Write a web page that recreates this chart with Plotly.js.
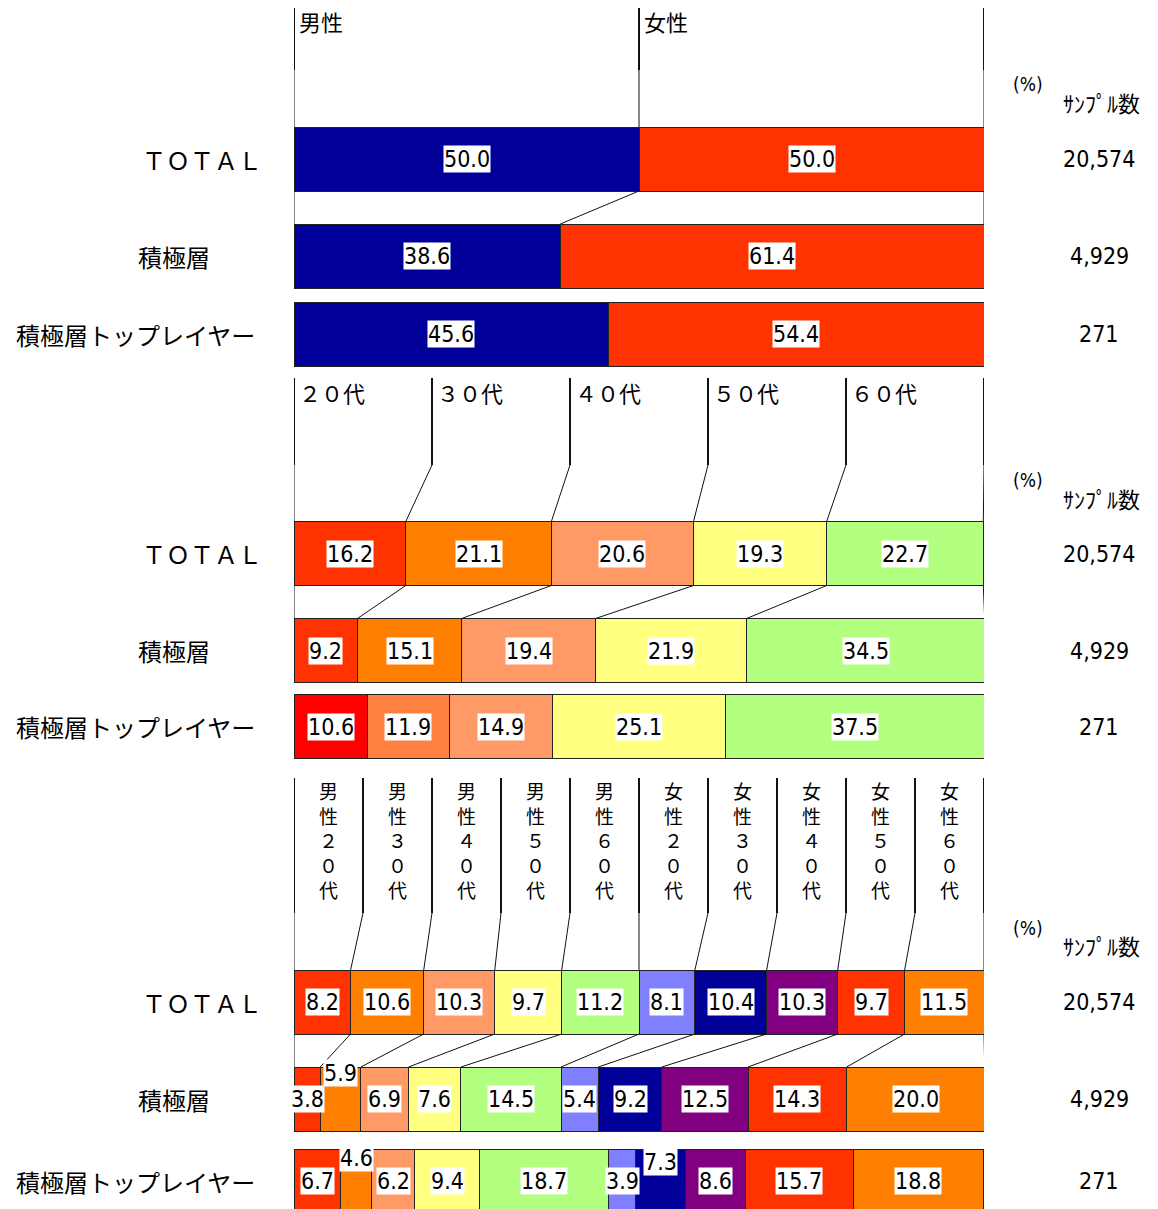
<!DOCTYPE html>
<html>
<head>
<meta charset="utf-8">
<script src="https://cdn.plot.ly/plotly-3.0.1.min.js"></script>
<style>
  html, body { margin: 0; padding: 0; background: #fff; }
  #chart { width: 1158px; height: 1209px; }
</style>
</head>
<body>
<div id="chart"></div>
<script>
// ---- data ----
const rowLabels = ['ＴＯＴＡＬ', '積極層', '積極層トップレイヤー'];
const sampleSizes = ['20,574', '4,929', '271'];

const sexCats = ['男性', '女性'];
const sexTotal = [50.0, 50.0];
const sexActive = [38.6, 61.4];
const sexTop = [45.6, 54.4];

const ageCats = ['２０代', '３０代', '４０代', '５０代', '６０代'];
const ageTotal = [16.2, 21.1, 20.6, 19.3, 22.7];
const ageActive = [9.2, 15.1, 19.4, 21.9, 34.5];
const ageTop = [10.6, 11.9, 14.9, 25.1, 37.5];

const sexAgeCats = ['男性２０代', '男性３０代', '男性４０代', '男性５０代', '男性６０代',
                    '女性２０代', '女性３０代', '女性４０代', '女性５０代', '女性６０代'];
const sexAgeTotal = [8.2, 10.6, 10.3, 9.7, 11.2, 8.1, 10.4, 10.3, 9.7, 11.5];
const sexAgeActive = [3.8, 5.9, 6.9, 7.6, 14.5, 5.4, 9.2, 12.5, 14.3, 20.0];
const sexAgeTop = [6.7, 4.6, 6.2, 9.4, 18.7, 3.9, 7.3, 8.6, 15.7, 18.8];

// ---- styles / layout geometry (y in page pixels, top = 0) ----
const W = 1158, H = 1209;
const BAR_H = 64;
const JP = '"Noto Sans CJK JP", "Noto Sans", sans-serif';
const NUM = '"Liberation Sans Narrow", "DejaVu Sans Condensed", "Noto Sans CJK JP", sans-serif';

const panels = [
  {
    cats: sexCats, rows: [sexTotal, sexActive, sexTop],
    colors: ['#000099', '#FF3300'],
    topColors: ['#000099', '#FF3300'],
    headTop: 8, headBottom: 70, centers: [159, 256, 334],
    pctY: 84, sampleHeadY: 102, vertical: false, headY: 21,
    lift: {}
  },
  {
    cats: ageCats, rows: [ageTotal, ageActive, ageTop],
    colors: ['#FF3300', '#FF8000', '#FF9966', '#FFFF80', '#B3FF80'],
    topColors: ['#FF0000', '#FF8040', '#FF9966', '#FFFF80', '#B3FF80'],
    headTop: 378, headBottom: 465, centers: [553.5, 650.5, 726.5],
    pctY: 480, sampleHeadY: 498, vertical: false, headY: 392,
    lift: {}
  },
  {
    cats: sexAgeCats, rows: [sexAgeTotal, sexAgeActive, sexAgeTop],
    colors: ['#FF3300', '#FF8000', '#FF9966', '#FFFF80', '#B3FF80',
             '#8080FF', '#000099', '#800080', '#FF3300', '#FF8000'],
    topColors: ['#FF3300', '#FF8000', '#FF9966', '#FFFF80', '#B3FF80',
                '#8080FF', '#000099', '#800080', '#FF3300', '#FF8000'],
    headTop: 778, headBottom: 913, centers: [1002, 1099, 1181],
    pctY: 928, sampleHeadY: 945, vertical: true, headY: 840,
    // labels of narrow segments raised above the row centre (row -> {segment: px})
    lift: { 1: { 1: 26 }, 2: { 1: 23, 6: 19 } }
  }
];

const rowLabelX = [140, 136, 14];
const sampleX = 1099;

function cumsum(arr) {
  const out = [0];
  arr.forEach(v => out.push(out[out.length - 1] + v));
  return out;
}

const traces = [];
const shapes = [];
const annotations = [];

const thick = { color: '#111', width: 2 };
const thin = { color: '#111', width: 1 };

panels.forEach(p => {
  const n = p.cats.length;

  // stacked bars, one trace per category
  p.cats.forEach((cat, k) => {
    traces.push({
      type: 'bar', orientation: 'h', name: cat,
      y: p.centers,
      x: p.rows.map(r => r[k]),
      width: BAR_H,
      marker: {
        color: [p.colors[k], p.colors[k], p.topColors[k]],
        line: { color: '#222', width: 1 }
      },
      hoverinfo: 'skip', showlegend: false
    });
  });

  const cumT = cumsum(p.rows[0]);
  const cumA = cumsum(p.rows[1]);
  const totalTop = p.centers[0] - BAR_H / 2;
  const totalBottom = p.centers[0] + BAR_H / 2;
  const activeTop = p.centers[1] - BAR_H / 2;

  // header dividers and leader lines down to the TOTAL bar
  for (let k = 0; k <= n; k++) {
    const hx = k * 100 / n;
    shapes.push({ type: 'line', xref: 'x', yref: 'y', x0: hx, x1: hx,
                  y0: p.headTop, y1: p.headBottom, line: thick });
    shapes.push({ type: 'line', xref: 'x', yref: 'y', x0: hx, x1: cumT[k],
                  y0: p.headBottom, y1: totalTop, line: thin });
    // TOTAL -> 積極層 connectors
    shapes.push({ type: 'line', xref: 'x', yref: 'y', x0: cumT[k], x1: cumA[k],
                  y0: totalBottom, y1: activeTop, line: thin });
  }

  // header category labels (stacked one character per line in the narrow panel)
  p.cats.forEach((cat, k) => {
    if (!p.vertical) {
      annotations.push({
        xref: 'x', yref: 'y', x: k * 100 / n, y: p.headY,
        xanchor: 'left', yanchor: 'middle', xshift: 3,
        text: cat, showarrow: false,
        font: { family: JP, size: 22, color: '#000' }
      });
    } else {
      annotations.push({
        xref: 'x', yref: 'y', x: (k + 0.5) * 100 / n, y: p.headY,
        xanchor: 'center', yanchor: 'middle', align: 'center',
        text: Array.from(cat).join('<br>'), showarrow: false,
        font: { family: JP, size: 19, color: '#000' }
      });
    }
  });

  // value labels on each segment
  p.rows.forEach((row, r) => {
    const c = cumsum(row);
    row.forEach((v, k) => {
      const lift = (p.lift[r] && p.lift[r][k]) || 0;
      annotations.push({
        xref: 'x', yref: 'y', x: c[k] + v / 2, y: p.centers[r], yshift: lift,
        xanchor: 'center', yanchor: 'middle',
        text: v.toFixed(1), showarrow: false,
        bgcolor: '#fff', borderpad: 0,
        font: { family: NUM, size: 23, color: '#000' }
      });
    });
  });

  // row labels and sample sizes
  rowLabels.forEach((lab, r) => {
    annotations.push({
      xref: 'paper', yref: 'y', x: rowLabelX[r] / W, y: p.centers[r],
      xanchor: 'left', yanchor: 'middle', text: lab, showarrow: false,
      font: { family: JP, size: 24, color: '#000' }
    });
    annotations.push({
      xref: 'paper', yref: 'y', x: sampleX / W, y: p.centers[r],
      xanchor: 'center', yanchor: 'middle', text: sampleSizes[r], showarrow: false,
      font: { family: NUM, size: 23, color: '#000' }
    });
  });

  annotations.push({
    xref: 'paper', yref: 'y', x: 1028 / W, y: p.pctY,
    xanchor: 'center', yanchor: 'middle', text: '(%)', showarrow: false,
    font: { family: NUM, size: 19, color: '#000' }
  });
  annotations.push({
    xref: 'paper', yref: 'y', x: 1101 / W, y: p.sampleHeadY,
    xanchor: 'center', yanchor: 'middle', text: 'ｻﾝﾌﾟﾙ数', showarrow: false,
    font: { family: JP, size: 22, color: '#000' }
  });
});

const layout = {
  width: W, height: H,
  margin: { l: 0, r: 0, t: 0, b: 0 },
  paper_bgcolor: '#fff', plot_bgcolor: '#fff',
  barmode: 'stack',
  showlegend: false,
  xaxis: { domain: [294 / W, 984 / W], range: [0, 100], visible: false, fixedrange: true },
  yaxis: { domain: [0, 1], range: [H, 0], visible: false, fixedrange: true },
  shapes: shapes,
  annotations: annotations
};

Plotly.newPlot('chart', traces, layout, { staticPlot: true, displayModeBar: false });
</script>
</body>
</html>
